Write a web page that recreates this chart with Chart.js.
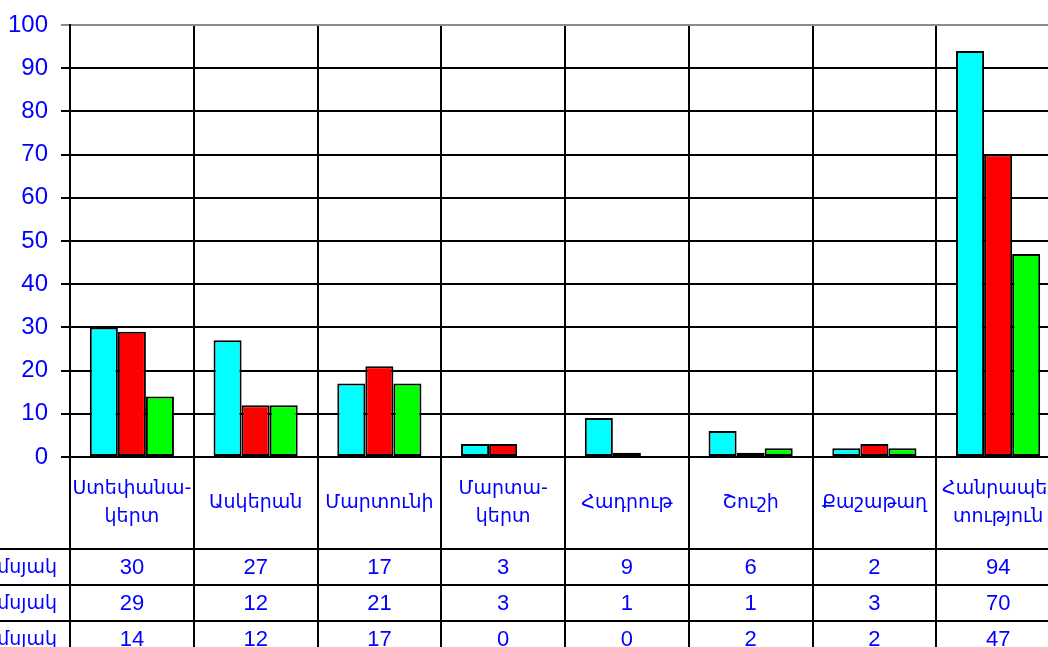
<!DOCTYPE html>
<html>
<head>
<meta charset="utf-8">
<script src="https://cdn.jsdelivr.net/npm/chart.js@4/dist/chart.umd.min.js"></script>
<style>
    html, body { margin: 0; padding: 0; background: #fff; overflow: hidden; width: 1048px; height: 647px; }
    #wrap { position: absolute; left: -100px; top: -30px; width: 1200px; height: 720px; }
</style>
</head>
<body>
<div id="wrap"><canvas id="chart" width="1200" height="720"></canvas></div>
<script>
    // Tên vùng (nhãn trục hoành, có thể xuống dòng)
    const categories = [
        ['Ստեփանա-', 'կերտ'], ['Ասկերան'], ['Մարտունի'], ['Մարտա-', 'կերտ'],
        ['Հադրութ'], ['Շուշի'], ['Քաշաթաղ'], ['Հանրապե-', 'տություն']
    ];
    const seriesNames = ['I եռամսյակ', 'II եռամսյակ', 'III եռամսյակ'];
    const seriesColors = ['#00ffff', '#ff0000', '#00ff00'];
    const series1 = [30, 27, 17, 3, 9, 6, 2, 94];
    const series2 = [29, 12, 21, 3, 1, 1, 3, 70];
    const series3 = [14, 12, 17, 0, 0, 2, 2, 47];
    const yMin = 0, yMax = 100, yStep = 10;

    const BLUE = '#0000ff';
    const ARM_FONT = '19px "DejaVu Sans", "Liberation Sans", sans-serif';

    // Bảng dữ liệu vẽ bên dưới biểu đồ
    const dataTable = {
        id: 'dataTable',
        afterDraw(chart) {
            const { ctx, chartArea, scales } = chart;
            const { left, right, bottom } = chartArea;
            const n = categories.length;
            const colW = (right - left) / n;
            const headH = 92, rowH = 36;
            const allSeries = [series1, series2, series3];
            const endY = chart.height;

            ctx.save();
            ctx.strokeStyle = '#000';
            ctx.lineWidth = 2;
            // đường dọc
            for (let i = 0; i <= n; i++) {
                const x = Math.round(left + i * colW);
                ctx.beginPath();
                ctx.moveTo(x, bottom);
                ctx.lineTo(x, endY);
                ctx.stroke();
            }
            // đường ngang
            for (let r = 0; r < allSeries.length; r++) {
                const y = Math.round(bottom + headH + r * rowH);
                ctx.beginPath();
                ctx.moveTo(0, y);
                ctx.lineTo(right, y);
                ctx.stroke();
            }

            ctx.fillStyle = BLUE;
            ctx.textAlign = 'center';
            ctx.textBaseline = 'middle';
            ctx.font = ARM_FONT;
            categories.forEach((lines, i) => {
                const cx = scales.x.getPixelForValue(i);
                const cy = bottom + headH / 2;
                const lh = 28;
                lines.forEach((t, k) => {
                    ctx.fillText(t, cx, cy + (k - (lines.length - 1) / 2) * lh);
                });
            });

            allSeries.forEach((vals, r) => {
                const cy = bottom + headH + r * rowH + rowH / 2 + 1;
                ctx.font = ARM_FONT;
                ctx.textAlign = 'right';
                ctx.fillText(seriesNames[r], left - 13, cy);
                ctx.font = '22px "Liberation Sans", Arial, sans-serif';
                ctx.textAlign = 'center';
                vals.forEach((v, i) => {
                    ctx.fillText(String(v), scales.x.getPixelForValue(i), cy);
                });
            });
            ctx.restore();
        }
    };

    const datasets = [series1, series2, series3].map((d, k) => ({
        label: seriesNames[k],
        data: d,
        backgroundColor: seriesColors[k],
        borderColor: '#000',
        borderWidth: 2,
        borderSkipped: false,
        categoryPercentage: 0.68,
        barPercentage: 1
    }));

    new Chart(document.getElementById('chart'), {
        type: 'bar',
        data: { labels: categories.map(c => c.join('')), datasets },
        options: {
            responsive: false,
            devicePixelRatio: 1,
            animation: false,
            layout: { padding: { left: 70, top: 55, right: 40, bottom: 233 } },
            plugins: { legend: { display: false }, tooltip: { enabled: false } },
            scales: {
                x: {
                    ticks: { display: false },
                    grid: { color: '#000', lineWidth: 2, drawTicks: false, offset: true },
                    border: { color: '#000', width: 2 },
                    afterFit: s => { s.height = 0; }
                },
                y: {
                    min: yMin,
                    max: yMax,
                    ticks: { stepSize: yStep, color: BLUE, font: { family: '"Liberation Sans", Arial, sans-serif', size: 24 }, padding: 13 },
                    grid: {
                        color: c => (c.tick && c.tick.value === yMax ? '#8a8a8a' : '#000'),
                        lineWidth: 2,
                        tickLength: 9
                    },
                    border: { color: '#000', width: 2 },
                    afterFit: s => { s.width = 100; }
                }
            }
        },
        plugins: [dataTable]
    });
</script>
</body>
</html>
